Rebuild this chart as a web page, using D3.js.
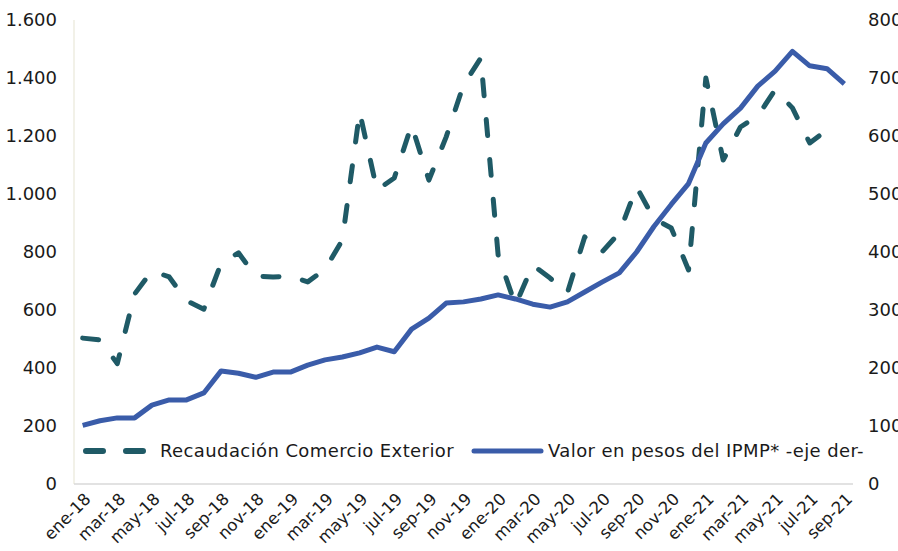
<!DOCTYPE html>
<html>
<head>
<meta charset="utf-8">
<script src="https://cdn.jsdelivr.net/npm/d3@7"></script>
<style>
  body { margin: 0; background: #fff; }
  svg text { font-family: "DejaVu Sans", sans-serif; fill: #1a1a1a; }
</style>
</head>
<body>
<svg id="chart" width="898" height="551"></svg>
<script>
// months ene-18 .. sep-21
var months = ["ene-18","feb-18","mar-18","abr-18","may-18","jun-18","jul-18","ago-18","sep-18","oct-18","nov-18","dic-18",
  "ene-19","feb-19","mar-19","abr-19","may-19","jun-19","jul-19","ago-19","sep-19","oct-19","nov-19","dic-19",
  "ene-20","feb-20","mar-20","abr-20","may-20","jun-20","jul-20","ago-20","sep-20","oct-20","nov-20","dic-20",
  "ene-21","feb-21","mar-21","abr-21","may-21","jun-21","jul-21","ago-21","sep-21"];

// Recaudación Comercio Exterior (left axis)
var recaudacion = [503, 497, 415, 655, 735, 714, 632, 603, 762, 797, 717, 714,
  717, 697, 740, 841, 1283, 1014, 1055, 1238, 1048, 1197, 1376, 1469,
  790, 617, 755, 710, 659, 852, 800, 866, 1024, 915, 883, 738,
  1400, 1117, 1231, 1269, 1359, 1297, 1176, 1221, null];

// Valor en pesos del IPMP* (right axis)
var ipmp = [101, 109, 114, 114, 136, 145, 145, 157, 195, 191, 184, 193,
  193, 205, 214, 219, 226, 236, 228, 267, 286, 312, 314, 319,
  326, 319, 310, 305, 314, 331, 348, 364, 400, 444, 482, 518,
  588, 621, 648, 686, 712, 746, 721, 716, 690];

var leftTicks = [0, 200, 400, 600, 800, 1000, 1200, 1400, 1600];
var rightTicks = [0, 100, 200, 300, 400, 500, 600, 700, 800];

var colorDash = "#1f5a66";
var colorSolid = "#3a5ca9";

var margin = {top: 20, right: 45, bottom: 67, left: 74};
var width = 898, height = 551;

var svg = d3.select("#chart");

var locale = d3.formatLocale({decimal: ",", thousands: ".", grouping: [3], currency: ["$", ""]});
var fmt = locale.format(",d");

var x = d3.scalePoint()
  .domain(months)
  .range([margin.left, width - margin.right])
  .padding(0.5);

var yL = d3.scaleLinear().domain([0, 1600]).range([height - margin.bottom, margin.top]);
var yR = d3.scaleLinear().domain([0, 800]).range([height - margin.bottom, margin.top]);

// left axis line
svg.append("line")
  .attr("x1", margin.left).attr("x2", margin.left)
  .attr("y1", margin.top).attr("y2", height - margin.bottom)
  .attr("stroke", "#eeece1").attr("stroke-width", 1.5);

// bottom axis line
svg.append("line")
  .attr("x1", margin.left).attr("x2", width - margin.right)
  .attr("y1", height - margin.bottom).attr("y2", height - margin.bottom)
  .attr("stroke", "#d9d9d9").attr("stroke-width", 1.5);

// left tick labels
svg.append("g")
  .selectAll("text")
  .data(leftTicks)
  .enter().append("text")
    .attr("x", 57)
    .attr("y", d => yL(d))
    .attr("dy", "0.35em")
    .attr("text-anchor", "end")
    .style("font-size", "18px")
    .text(d => fmt(d));

// right tick labels (cut by the right edge, as in the original)
svg.append("g")
  .selectAll("text")
  .data(rightTicks)
  .enter().append("text")
    .attr("x", 868)
    .attr("y", d => yR(d))
    .attr("dy", "0.35em")
    .attr("text-anchor", "start")
    .style("font-size", "18px")
    .text(d => d);

// x labels, every second month
svg.append("g")
  .selectAll("text")
  .data(months.filter((m, i) => i % 2 == 0))
  .enter().append("text")
    .attr("transform", d => `translate(${x(d) + 5},${height - margin.bottom + 12}) rotate(-45)`)
    .attr("text-anchor", "end")
    .attr("dy", "0.35em")
    .style("font-size", "16.5px")
    .text(d => d);

// lines
var lineL = d3.line()
  .defined(d => d != null)
  .x((d, i) => x(months[i]))
  .y(d => yL(d));

var lineR = d3.line()
  .x((d, i) => x(months[i]))
  .y(d => yR(d));

svg.append("path")
  .datum(recaudacion)
  .attr("d", lineL)
  .attr("fill", "none")
  .attr("stroke", colorDash)
  .attr("stroke-width", 5)
  .attr("stroke-linecap", "round")
  .attr("stroke-linejoin", "round")
  .attr("stroke-dasharray", "16,24");

svg.append("path")
  .datum(ipmp)
  .attr("d", lineR)
  .attr("fill", "none")
  .attr("stroke", colorSolid)
  .attr("stroke-width", 5)
  .attr("stroke-linejoin", "round");

// legend
var ly = 451;
var leg = svg.append("g");
leg.append("line")
  .attr("x1", 86).attr("x2", 146).attr("y1", ly).attr("y2", ly)
  .attr("stroke", colorDash).attr("stroke-width", 6)
  .attr("stroke-linecap", "round")
  .attr("stroke-dasharray", "17,23");
leg.append("text")
  .attr("x", 160).attr("y", ly).attr("dy", "0.35em")
  .style("font-size", "18px")
  .style("letter-spacing", "0.4px")
  .text("Recaudación Comercio Exterior");
leg.append("line")
  .attr("x1", 474).attr("x2", 541).attr("y1", ly).attr("y2", ly)
  .attr("stroke", colorSolid).attr("stroke-width", 5)
  .attr("stroke-linecap", "round");
leg.append("text")
  .attr("x", 548).attr("y", ly).attr("dy", "0.35em")
  .style("font-size", "18px")
  .style("letter-spacing", "0.4px")
  .text("Valor en pesos del IPMP* -eje der-");
</script>
</body>
</html>
